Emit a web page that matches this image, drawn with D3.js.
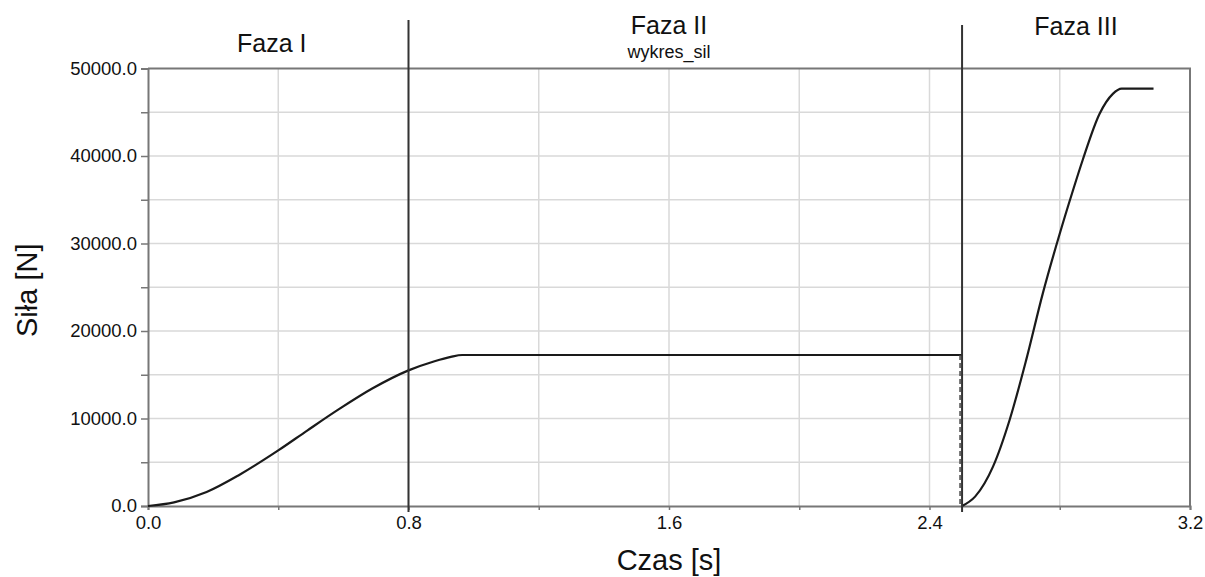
<!DOCTYPE html>
<html>
<head>
<meta charset="utf-8">
<style>
  body { margin: 0; background: #fff; }
  text { font-family: "Liberation Sans", Arial, sans-serif; fill: #111; }
</style>
</head>
<body>
<svg width="1205" height="577"></svg>
<script src="https://d3js.org/d3.v7.min.js"></script>
<script>

// force curve, phase I + II (time [s], force [N])
var timeA  = [0, 0.08, 0.18, 0.28, 0.40, 0.49, 0.59, 0.69, 0.80, 0.88, 0.93, 0.965, 1.6, 2.5];
var forceA = [0, 420, 1600, 3550, 6350, 8650, 11150, 13450, 15500, 16550, 17050, 17260, 17260, 17260];

// force curve, phase III
var timeB  = [2.5, 2.54, 2.595, 2.646, 2.697, 2.748, 2.799, 2.84, 2.871, 2.922, 2.963, 2.99, 3.088];
var forceB = [0, 1070, 4500, 9830, 16700, 24300, 31000, 36000, 39600, 44800, 47100, 47700, 47700];

// phase boundaries and labels
var phaseLines  = [0.8, 2.5];
var phaseNames  = ["Faza I", "Faza II", "Faza III"];
var phaseCenter = [0.38, 1.6, 2.85];

var xTicks = [0, 0.8, 1.6, 2.4, 3.2];
var yTicks = [0, 10000, 20000, 30000, 40000, 50000];

var svg = d3.select("svg"),
    margin = {top: 68.5, right: 15, bottom: 71, left: 148},
    width = +svg.attr("width") - margin.left - margin.right,
    height = +svg.attr("height") - margin.top - margin.bottom,
    g = svg.append("g").attr("transform", "translate(" + margin.left + "," + margin.top + ")");

var x = d3.scaleLinear().domain([0, 3.2]).range([0, width]);
var y = d3.scaleLinear().domain([0, 50000]).range([height, 0]);

// grid
g.append("g")
    .selectAll("line")
    .data(d3.range(1, 8).map(function(i) { return i * 0.4; }))
    .enter().append("line")
    .attr("x1", function(d) { return x(d); })
    .attr("x2", function(d) { return x(d); })
    .attr("y1", 0).attr("y2", height)
    .attr("stroke", "#d9d9d9").attr("stroke-width", 1.5);

g.append("g")
    .selectAll("line")
    .data(d3.range(1, 10).map(function(i) { return i * 5000; }))
    .enter().append("line")
    .attr("x1", 0).attr("x2", width)
    .attr("y1", function(d) { return y(d); })
    .attr("y2", function(d) { return y(d); })
    .attr("stroke", "#d9d9d9").attr("stroke-width", 1.5);

// frame top/right
g.append("path")
    .attr("d", "M0,0H" + width + "V" + height)
    .attr("fill", "none").attr("stroke", "#777").attr("stroke-width", 2);

// y axis
var yAxis = g.append("g")
    .call(d3.axisLeft(y)
        .tickValues(d3.range(0, 50001, 5000))
        .tickSize(7)
        .tickFormat(function(d) { return yTicks.indexOf(d) >= 0 ? d3.format(".1f")(d) : ""; }));
yAxis.select(".domain").attr("stroke", "#777").attr("stroke-width", 2);
yAxis.selectAll(".tick line").attr("stroke", "#777").attr("stroke-width", 1.5);
yAxis.selectAll(".tick text")
    .attr("x", -11)
    .style("font-size", "18.5px")
    .style("font-family", "'Liberation Sans', Arial, sans-serif")
    .attr("fill", "#222");

// x axis
var xAxis = g.append("g")
    .attr("transform", "translate(0," + height + ")")
    .call(d3.axisBottom(x)
        .tickValues(d3.range(0, 9).map(function(i) { return i * 0.4; }))
        .tickSize(4)
        .tickFormat(function(d) { return xTicks.some(function(v) { return Math.abs(v - d) < 1e-6; }) ? d3.format(".1f")(d) : ""; }));
xAxis.select(".domain").attr("stroke", "#777").attr("stroke-width", 2);
xAxis.selectAll(".tick line").attr("stroke", "#777").attr("stroke-width", 1.5);
xAxis.selectAll(".tick text")
    .attr("y", 10)
    .style("font-size", "18.5px")
    .style("font-family", "'Liberation Sans', Arial, sans-serif")
    .attr("fill", "#222");

// force curve
var line = d3.line()
    .x(function(d) { return x(d[0]); })
    .y(function(d) { return y(d[1]); })
    .curve(d3.curveMonotoneX);

g.append("path")
    .datum(d3.zip(timeA, forceA))
    .attr("fill", "none").attr("stroke", "#1a1a1a").attr("stroke-width", 2.2)
    .attr("d", line);

g.append("path")
    .datum(d3.zip(timeB, forceB))
    .attr("fill", "none").attr("stroke", "#1a1a1a").attr("stroke-width", 2.2)
    .attr("d", line);

// drop between phase II and III
g.append("line")
    .attr("x1", x(timeA[timeA.length - 1]) - 2)
    .attr("x2", x(timeB[0]) - 2)
    .attr("y1", y(forceA[forceA.length - 1]))
    .attr("y2", y(forceB[0]))
    .attr("stroke", "#444").attr("stroke-width", 1.5)
    .attr("stroke-dasharray", "5,3");

// phase boundary lines
var topY = [20 - margin.top, 25 - margin.top];
g.selectAll(".phase")
    .data(phaseLines)
    .enter().append("line")
    .attr("class", "phase")
    .attr("x1", function(d) { return x(d); })
    .attr("x2", function(d) { return x(d); })
    .attr("y1", function(d, i) { return topY[i]; })
    .attr("y2", height + 6)
    .attr("stroke", "#333").attr("stroke-width", 2);

// phase labels
var labelY = [51.5, 34, 35];
svg.selectAll(".phaseLabel")
    .data(phaseNames)
    .enter().append("text")
    .attr("class", "phaseLabel")
    .attr("x", function(d, i) { return margin.left + x(phaseCenter[i]); })
    .attr("y", function(d, i) { return labelY[i]; })
    .attr("text-anchor", "middle")
    .style("font-size", "25px")
    .text(function(d) { return d; });

svg.append("text")
    .attr("x", margin.left + width / 2)
    .attr("y", 58)
    .attr("text-anchor", "middle")
    .style("font-size", "18px")
    .text("wykres_sil");

// axis titles
svg.append("text")
    .attr("x", margin.left + width / 2)
    .attr("y", 570)
    .attr("text-anchor", "middle")
    .style("font-size", "29px")
    .text("Czas [s]");

svg.append("text")
    .attr("transform", "translate(37," + (margin.top + height / 2 + 3) + ") rotate(-90)")
    .attr("text-anchor", "middle")
    .style("font-size", "29px")
    .text("Siła [N]");

</script>
</body>
</html>
